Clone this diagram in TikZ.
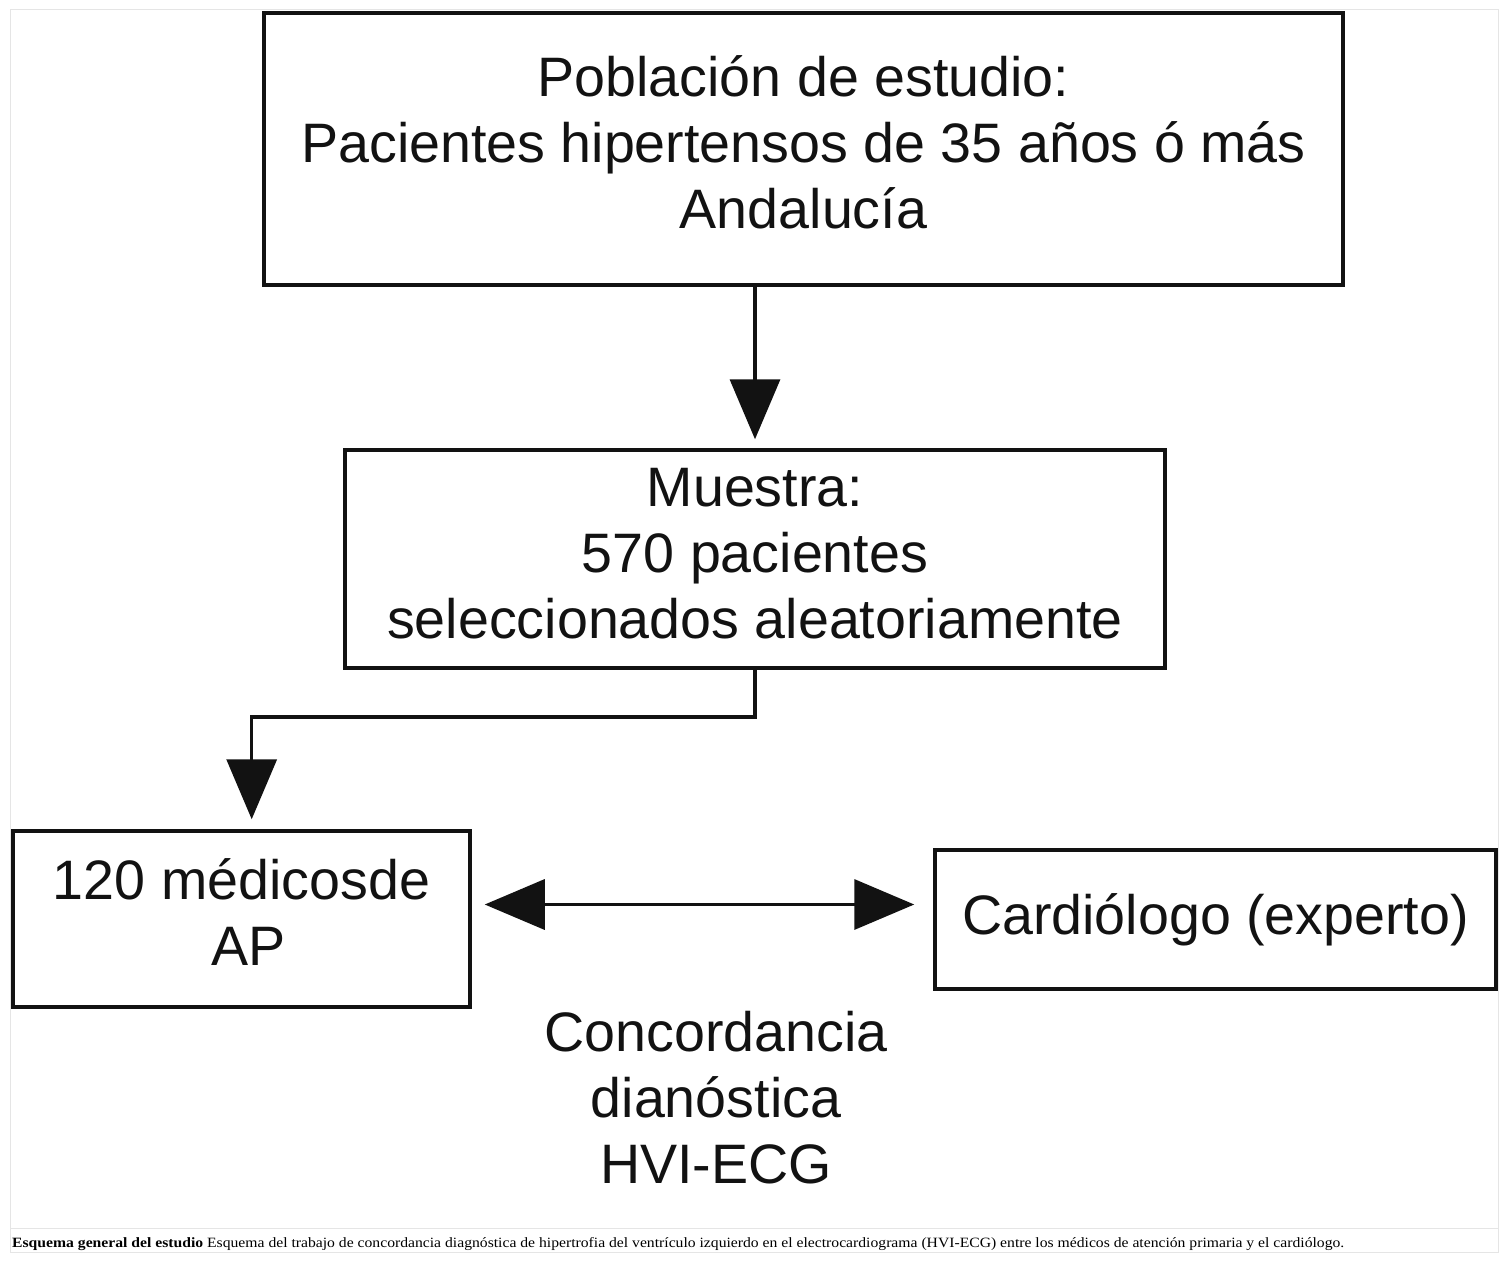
\documentclass[tikz,border=0pt]{standalone}
\usepackage{fontspec}
\usepackage{graphicx}
\setmainfont{Liberation Sans}
\newfontfamily\capfont{Liberation Serif}
\usetikzlibrary{arrows.meta}
\begin{document}
\begin{tikzpicture}[x=1pt,y=-1pt,
  boxstyle/.style={draw=black!93,line width=3.5pt,inner sep=0pt,align=center,
    font=\fontsize{55.6}{66}\selectfont,text=black!93},
  conn/.style={draw=black!93,line width=3.5pt,-{Triangle[length=60pt,width=50pt]}},
  dconn/.style={draw=black!93,line width=3.5pt,{Triangle[length=60pt,width=50pt]}-{Triangle[length=60pt,width=50pt]}},
  framestyle/.style={draw=black!10,line width=1pt}]
\useasboundingbox (0,0) rectangle (1508,1263);
\fill[white] (0,0) rectangle (1508,1263);
% outer frame
\draw[framestyle] (10,10) rectangle (1498,1252);
\draw[framestyle] (10,1228) -- (1498,1228);
% boxes
\node[boxstyle,minimum width=1079pt,minimum height=272pt] (b1) at (803.5,149)
  {\raisebox{4pt}{\begin{tabular}{@{}c@{}}Población de estudio:\\Pacientes hipertensos de 35 años ó más\\Andalucía\end{tabular}}};
\node[boxstyle,minimum width=820pt,minimum height=218pt] (b2) at (755,559)
  {\raisebox{2pt}{\begin{tabular}{@{}c@{}}Muestra:\\570 pacientes\\seleccionados aleatoriamente\end{tabular}}};
\node[boxstyle,minimum width=457pt,minimum height=176pt] (b3) at (241.5,919)
  {\raisebox{2pt}{\begin{tabular}{@{}c@{}}120 médicosde\\\hspace*{14pt}AP\end{tabular}}};
\node[boxstyle,minimum width=561pt,minimum height=139pt] (b4) at (1215.5,919.5)
  {\raisebox{2pt}{Cardiólogo (experto)}};
\node[align=center,inner sep=0pt,font=\fontsize{55.6}{66}\selectfont,text=black!93] (conc) at (716,1098)
  {Concordancia\\dianóstica\\HVI-ECG};
% connectors
\draw[conn,shorten >=9pt] (b1.south -| b2.north) -- (b2.north);
\coordinate (elb) at (251.7,717);
\draw[conn,shorten >=10pt] (b2.south) |- (elb) -- (elb |- b3.north);
\coordinate (dl) at ([yshift=14.5pt]b3.east);
\draw[dconn,shorten <=13pt,shorten >=19pt] (dl) -- (dl -| b4.west);
% caption
\node[anchor=base west,inner sep=0pt] (cap) at (12,1247)
  {\resizebox{1332pt}{10pt}{\capfont\textbf{Esquema general del estudio} Esquema del trabajo de concordancia diagnóstica de hipertrofia del ventrículo izquierdo en el electrocardiograma (HVI-ECG) entre los médicos de atención primaria y el cardiólogo.}};
\end{tikzpicture}
\end{document}
